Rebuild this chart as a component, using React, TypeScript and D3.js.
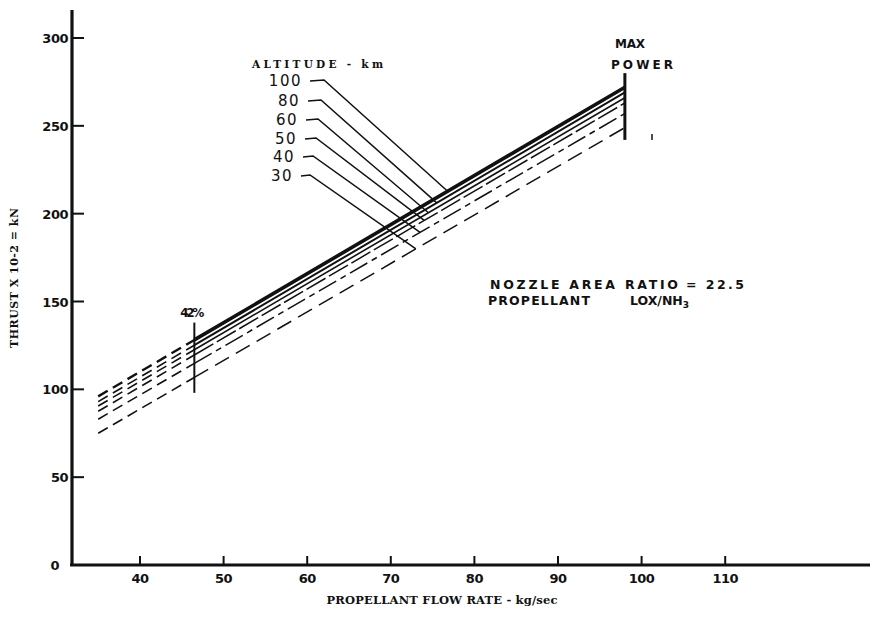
import React from "react";
import * as d3 from "d3";

// ---- data ----
const altitudes = ["100", "80", "60", "50", "40", "30"];
const flowStart = 35;
const flow42 = 46.5;
const flowMax = 98;
const thrustAtStart = [96, 93, 90.5, 87.5, 83, 75];
const thrustAtMax = [272, 269, 266, 263, 257, 249];
const leaderFlow = [76.8, 75.5, 74.5, 74, 73.5, 73];
const xTicks = [40, 50, 60, 70, 80, 90, 100, 110];
const yTicks = [0, 50, 100, 150, 200, 250, 300];
const mark42Range = [98, 138];
const maxPowerRange = [242, 280];

const W = 873;
const H = 618;

const x = d3.scaleLinear().domain([40, 90]).range([140, 558]);
const y = d3.scaleLinear().domain([0, 300]).range([565, 38]);

const lineStyles = [
  { w: 3.6, dash: "" },
  { w: 2, dash: "" },
  { w: 1.6, dash: "" },
  { w: 1.5, dash: "22,4" },
  { w: 1.5, dash: "20,5,6,5" },
  { w: 1.5, dash: "16,8" },
];

const hand = "'DejaVu Sans', sans-serif";
const serif = "'DejaVu Serif', 'Liberation Serif', serif";
const ink = "#111";

export default function App() {
  const line = d3
    .line<[number, number]>()
    .x((d) => x(d[0]))
    .y((d) => y(d[1]));

  const thrustFn = (i: number) =>
    d3.scaleLinear().domain([flowStart, flowMax]).range([thrustAtStart[i], thrustAtMax[i]]);

  const labelRight = [302, 300, 298, 297, 295, 293];
  const labelY = [80, 100, 119, 138, 156, 175];

  return (
    <svg
      width={W}
      height={H}
      style={{ position: "absolute", left: 0, top: 0, background: "#fff" }}
    >
      <rect x={0} y={0} width={W} height={H} fill="#fff" />
      {/* axes */}
      <line x1={72} y1={10} x2={72} y2={566} stroke={ink} strokeWidth={3.2} />
      <line x1={70} y1={565} x2={870} y2={565} stroke={ink} strokeWidth={3} />
      {yTicks.map((t) => (
        <g key={"y" + t}>
          {t > 0 && (
            <line x1={72} y1={y(t)} x2={84} y2={y(t)} stroke={ink} strokeWidth={2} />
          )}
          <text
            x={t === 0 ? 59 : 68}
            y={y(t) + 5}
            textAnchor="end"
            fontFamily={hand}
            fontWeight="bold"
            fontSize={13}
            fill={ink}
            letterSpacing={-0.5}
          >
            {t}
          </text>
        </g>
      ))}
      {xTicks.map((t) => (
        <g key={"x" + t}>
          <line x1={x(t)} y1={565} x2={x(t)} y2={556} stroke={ink} strokeWidth={2} />
          <text
            x={x(t)}
            y={583}
            textAnchor="middle"
            fontFamily={hand}
            fontWeight="bold"
            fontSize={13}
            fill={ink}
            letterSpacing={-0.5}
          >
            {t}
          </text>
        </g>
      ))}
      <text
        x={442}
        y={604}
        textAnchor="middle"
        fontFamily={serif}
        fontWeight="bold"
        fontSize={11.5}
        fill={ink}
        textLength={231}
      >
        PROPELLANT FLOW RATE - kg/sec
      </text>
      <text
        transform="translate(18,278) rotate(-90)"
        textAnchor="middle"
        fontFamily={serif}
        fontWeight="bold"
        fontSize={11}
        fill={ink}
        textLength={140}
      >
        THRUST X 10-2 = kN
      </text>

      {/* data lines */}
      {altitudes.map((a, i) => {
        const f = thrustFn(i);
        const st = lineStyles[i];
        return (
          <g key={a}>
            <path
              d={line([
                [flowStart, f(flowStart)],
                [flow42, f(flow42)],
              ])!}
              fill="none"
              stroke={ink}
              strokeWidth={i === 0 ? 2.4 : 1.6}
              strokeDasharray="11,6"
            />
            <path
              d={line([
                [flow42, f(flow42)],
                [flowMax, f(flowMax)],
              ])!}
              fill="none"
              stroke={ink}
              strokeWidth={st.w}
              strokeDasharray={st.dash || undefined}
            />
          </g>
        );
      })}

      {/* 42% mark */}
      <line
        x1={x(flow42)}
        x2={x(flow42)}
        y1={y(mark42Range[0])}
        y2={y(mark42Range[1])}
        stroke={ink}
        strokeWidth={2}
      />
      <text
        x={x(flow42) - 2}
        y={y(mark42Range[1]) - 6}
        textAnchor="middle"
        fontFamily={hand}
        fontWeight="bold"
        fontSize={12}
        fill={ink}
        textLength={24}
      >
        42%
      </text>

      {/* max power */}
      <line
        x1={x(flowMax)}
        x2={x(flowMax)}
        y1={y(maxPowerRange[0])}
        y2={y(maxPowerRange[1])}
        stroke={ink}
        strokeWidth={3}
      />
      <line x1={652} x2={652} y1={134} y2={140} stroke={ink} strokeWidth={1.5} />
      <text x={630} y={48} textAnchor="middle" fontFamily={hand} fontWeight="bold" fontSize={12} fill={ink} textLength={30}>
        MAX
      </text>
      <text x={642} y={69} textAnchor="middle" fontFamily={hand} fontWeight="bold" fontSize={12} fill={ink} textLength={62}>
        POWER
      </text>

      {/* altitude legend */}
      <text x={252} y={68} fontFamily={serif} fontWeight="bold" fontSize={10.5} fill={ink} textLength={131}>
        ALTITUDE - km
      </text>
      {altitudes.map((a, i) => {
        const f = thrustFn(i);
        const hx0 = labelRight[i] + 8;
        const hx1 = labelRight[i] + 22 - i;
        const ly = labelY[i];
        const ex = x(leaderFlow[i]);
        const ey = y(f(leaderFlow[i]));
        return (
          <g key={"lab" + a}>
            <text
              x={labelRight[i]}
              y={ly + 6}
              textAnchor="end"
              fontFamily={hand}
              fontSize={15}
              fill={ink}
              letterSpacing={1.5}
            >
              {a}
            </text>
            <path
              d={`M${hx0},${ly + 1}L${hx1},${ly}L${ex},${ey}`}
              fill="none"
              stroke={ink}
              strokeWidth={1.5}
            />
          </g>
        );
      })}

      {/* notes */}
      <text x={490} y={289} fontFamily={hand} fontWeight="bold" fontSize={12.5} fill={ink} textLength={188}>
        NOZZLE AREA RATIO
      </text>
      <text x={686} y={289} fontFamily={hand} fontWeight="bold" fontSize={12.5} fill={ink} textLength={58}>
        = 22.5
      </text>
      <text x={488} y={305} fontFamily={hand} fontWeight="bold" fontSize={12.5} fill={ink} textLength={102}>
        PROPELLANT
      </text>
      <text x={630} y={305} fontFamily={hand} fontWeight="bold" fontSize={12.5} fill={ink}>
        LOX/NH<tspan dy={3} fontSize={9}>3</tspan>
      </text>
    </svg>
  );
}
